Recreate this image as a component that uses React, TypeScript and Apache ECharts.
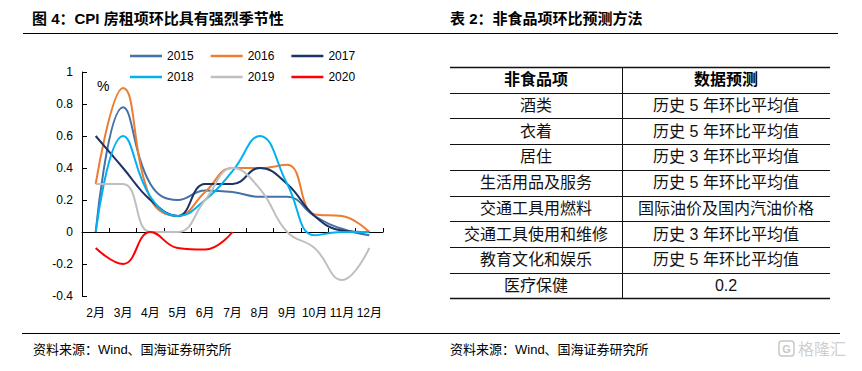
import React, { useEffect, useRef } from 'react';
import * as echarts from 'echarts';

// ---- chart data ----
const months = ['2月', '3月', '4月', '5月', '6月', '7月', '8月', '9月', '10月', '11月', '12月'];
const yearNames = ['2015', '2016', '2017', '2018', '2019', '2020'];
const v2015 = [0, 0.78, 0.3, 0.2, 0.26, 0.25, 0.22, 0.22, 0.1, 0.02, -0.02];
const v2016 = [0.3, 0.9, 0.21, 0.1, 0.25, 0.4, 0.4, 0.42, 0.11, 0.1, 0];
const v2017 = [0.6, 0.4, 0.2, 0.1, 0.3, 0.3, 0.4, 0.3, 0.1, 0.01, 0];
const v2018 = [0, 0.6, 0.22, 0.1, 0.2, 0.38, 0.6, 0.3, -0.02, 0, 0];
const v2019 = [0.3, 0.3, 0, 0, 0.2, 0.4, 0.27, 0, -0.1, -0.3, -0.1];
const v2020 = [-0.1, -0.2, 0, -0.1, -0.11, 0];
const yearColors = ['#4472A8', '#ED7D31', '#1B3366', '#00B0F0', '#BFBFBF', '#FF0000'];

// ---- table data ----
const tableHeader = ['非食品项', '数据预测'];
const tableItems = ['酒类', '衣着', '居住', '生活用品及服务', '交通工具用燃料', '交通工具使用和维修', '教育文化和娱乐', '医疗保健'];
const tableMethods = ['历史 5 年环比平均值', '历史 5 年环比平均值', '历史 3 年环比平均值', '历史 5 年环比平均值', '国际油价及国内汽油价格', '历史 3 年环比平均值', '历史 5 年环比平均值', '0.2'];

const leftTitle = '图 4：CPI 房租项环比具有强烈季节性';
const rightTitle = '表 2：非食品项环比预测方法';
const sourceText = '资料来源：Wind、国海证券研究所';

const LATIN = '"Liberation Sans", Arial, sans-serif';
const CJK = '"Liberation Sans", "Noto Sans CJK SC", sans-serif';

function txt(text: string, x: number, y: number, opts: any = {}) {
  const align = opts.align || 'left';
  return {
    type: 'text',
    x,
    y,
    silent: true,
    style: {
      text,
      fill: opts.fill || '#000',
      fontSize: opts.fontSize || 14,
      fontFamily: opts.fontFamily || CJK,
      fontWeight: opts.fontWeight || 'normal',
      align,
      verticalAlign: 'middle',
      textAlign: align,
      textVerticalAlign: 'middle',
    },
  };
}

function hline(x1: number, x2: number, y: number, w = 1, color = '#000') {
  return { type: 'line', silent: true, shape: { x1, y1: y, x2, y2: y }, style: { stroke: color, lineWidth: w } };
}

function buildGraphics() {
  const g: any[] = [];
  // titles
  g.push(txt(leftTitle, 32, 18, { fontSize: 15, fontWeight: 'bold' }));
  g.push(txt(rightTitle, 450, 18, { fontSize: 15, fontWeight: 'bold' }));
  g.push(hline(23, 430, 33.5));
  g.push(hline(430, 838, 33.5));
  // bottom rule + sources
  g.push(hline(22, 840, 333.5));
  g.push(txt(sourceText, 33, 349, { fontSize: 13 }));
  g.push(txt(sourceText, 450, 349, { fontSize: 13 }));
  // unit
  g.push(txt('%', 97, 86, { fontSize: 14, fontFamily: LATIN }));
  // table
  const tx1 = 450, tx2 = 830, tdiv = 622, top = 67, rowH = 25.7;
  const nRows = tableItems.length + 1;
  const bottom = top + rowH * nRows;
  for (let i = 0; i <= nRows; i++) {
    const y = top + rowH * i;
    const w = i === 0 || i === nRows ? 1.5 : 1;
    g.push(hline(tx1, tx2, Math.round(y) + 0.5, w, '#111'));
  }
  g.push({ type: 'line', silent: true, shape: { x1: tdiv + 0.5, y1: top, x2: tdiv + 0.5, y2: bottom }, style: { stroke: '#111', lineWidth: 1 } });
  const c1 = (tx1 + tdiv) / 2, c2 = (tdiv + tx2) / 2;
  g.push(txt(tableHeader[0], c1, top + rowH / 2, { fontSize: 16, fontWeight: 'bold', align: 'center' }));
  g.push(txt(tableHeader[1], c2, top + rowH / 2, { fontSize: 16, fontWeight: 'bold', align: 'center' }));
  tableItems.forEach((it, i) => {
    const y = top + rowH * (i + 1) + rowH / 2;
    g.push(txt(it, c1, y, { fontSize: 16, align: 'center', fill: '#111' }));
    g.push(txt(tableMethods[i], c2, y, { fontSize: 16, align: 'center', fill: '#111' }));
  });
  // watermark
  g.push({ type: 'rect', silent: true, shape: { x: 779, y: 341, width: 15, height: 15, r: 3 }, style: { fill: 'none', stroke: '#c8c8c8', lineWidth: 1.5 } });
  g.push(txt('G', 786.5, 349, { fontSize: 11, fontFamily: LATIN, fill: '#c8c8c8', align: 'center', fontWeight: 'bold' }));
  g.push(txt('格隆汇', 798, 349, { fontSize: 16, fill: '#cfcfcf' }));
  return g;
}

const allValues = [v2015, v2016, v2017, v2018, v2019, v2020];

export default function App() {
  const ref = useRef<HTMLDivElement>(null);
  useEffect(() => {
    const chart = echarts.init(ref.current!, null, { renderer: 'svg' });
    const option: any = {
      animation: false,
      backgroundColor: '#fff',
      textStyle: { fontFamily: LATIN },
      legend: [
        {
          data: yearNames.slice(0, 3), left: 125, top: 45, icon: 'rect', itemWidth: 32, itemHeight: 2.5, itemGap: 17,
          textStyle: { fontSize: 12, color: '#000', fontFamily: LATIN },
        },
        {
          data: yearNames.slice(3), left: 125, top: 66, icon: 'rect', itemWidth: 32, itemHeight: 2.5, itemGap: 17,
          textStyle: { fontSize: 12, color: '#000', fontFamily: LATIN },
        },
      ],
      grid: { left: 82, right: 479, top: 72, bottom: 75, containLabel: false, outerBoundsMode: 'none' },
      xAxis: {
        type: 'category',
        data: months,
        boundaryGap: true,
        axisLine: { onZero: true, lineStyle: { color: '#000', width: 1 } },
        axisTick: { show: true, inside: true, length: 4, lineStyle: { color: '#000' } },
        axisLabel: { margin: 11, fontSize: 12, color: '#000', fontFamily: CJK, interval: 0 },
        splitLine: { show: false },
      },
      yAxis: {
        type: 'value',
        min: -0.4,
        max: 1,
        interval: 0.2,
        axisLine: { show: true, lineStyle: { color: '#000', width: 1 } },
        axisTick: { show: true, inside: true, length: 5, lineStyle: { color: '#000' } },
        axisLabel: { fontSize: 12, color: '#000', margin: 9, formatter: (v: number) => String(Math.round(v * 10) / 10) },
        splitLine: { show: false },
      },
      series: yearNames.map((name, i) => ({
        name,
        type: 'line',
        data: allValues[i],
        smooth: 0.45,
        symbol: 'none',
        lineStyle: { width: 2, color: yearColors[i] },
        itemStyle: { color: yearColors[i] },
      })),
      graphic: buildGraphics(),
    };
    chart.setOption(option);
    return () => chart.dispose();
  }, []);
  return <div ref={ref} style={{ position: 'absolute', left: 0, top: 0, width: 862, height: 371, background: '#fff' }} />;
}
